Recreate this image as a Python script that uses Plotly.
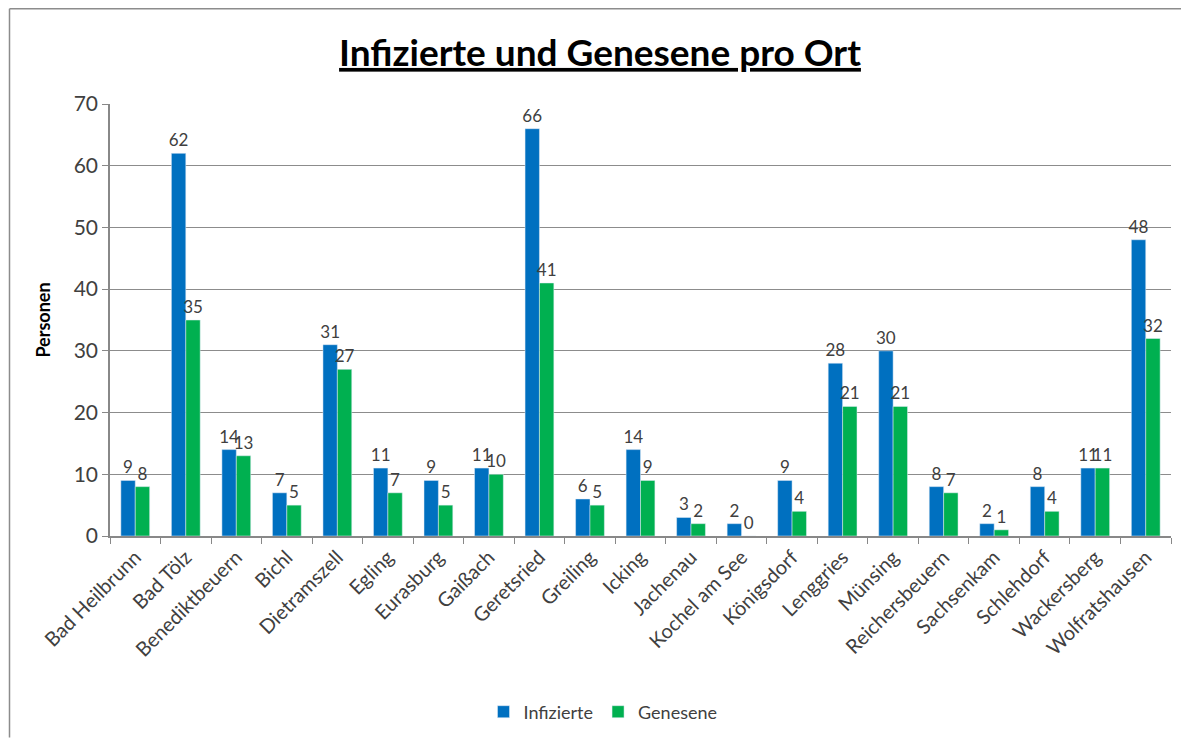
import plotly.graph_objects as go

orte = ["Bad Heilbrunn", "Bad Tölz", "Benediktbeuern", "Bichl", "Dietramszell", "Egling",
        "Eurasburg", "Gaißach", "Geretsried", "Greiling", "Icking", "Jachenau",
        "Kochel am See", "Königsdorf", "Lenggries", "Münsing", "Reichersbeuern",
        "Sachsenkam", "Schlehdorf", "Wackersberg", "Wolfratshausen"]
infizierte = [9, 62, 14, 7, 31, 11, 9, 11, 66, 6, 14, 3, 2, 9, 28, 30, 8, 2, 8, 11, 48]
genesene = [8, 35, 13, 5, 27, 7, 5, 10, 41, 5, 9, 2, 0, 4, 21, 21, 7, 1, 4, 11, 32]
y_ticks = [0, 10, 20, 30, 40, 50, 60, 70]

FONT = "Lato"
OFF = 8  # page offset
H = 739 - OFF
L, R, T, B = 110 - OFF, 10, 104 - OFF, 739 - 537
W = 1171 - OFF + R  # keep plot right at x=1171

fig = go.Figure()
for name, vals, col in [("Infizierte", infizierte, "#0070C0"), ("Genesene", genesene, "#00B050")]:
    fig.add_bar(x=orte, y=vals, name=name, marker_color=col,
                text=vals, textposition="outside", cliponaxis=False, constraintext="none",
                textfont=dict(size=17, color="#404040", family=FONT))

pw = W - L - R
ph = H - T - B
xl = (1.5 - L) / pw
xr = (W - L) / pw
yt = (H - B - 0.5) / ph
yb = -(H - T - ph) / ph
fig.add_shape(type="line", xref="paper", yref="paper", x0=xl, x1=xr, y0=yt, y1=yt,
              line=dict(color="#8c8c8c", width=1.5), layer="below")
fig.add_shape(type="line", xref="paper", yref="paper", x0=xl, x1=xl, y0=yb, y1=yt,
              line=dict(color="#8c8c8c", width=1.5), layer="below")

fig.update_layout(
    width=W, height=H,
    margin=dict(l=L, r=R, t=T, b=B),
    paper_bgcolor="white", plot_bgcolor="white",
    font=dict(family=FONT, color="#404040"),
    title=dict(text="<b><u>Infizierte und Genesene pro Ort</u></b>",
               x=(600 - OFF) / W, xanchor="center", y=1 - (53 - OFF) / H, yanchor="middle",
               font=dict(size=37, color="black", family=FONT)),
    barmode="group", bargap=0.43, bargroupgap=0,
    legend=dict(orientation="h", x=(603 - OFF - L) / pw, xanchor="center",
                y=-(712 - 537) / ph, yanchor="middle",
                font=dict(size=18, family=FONT, color="#404040"),
                itemwidth=30, traceorder="normal"),
    xaxis=dict(tickangle=-45, tickfont=dict(size=20, family=FONT, color="#404040"),
               showline=True, linecolor="#888888", linewidth=1.5,
               ticks="outside", ticklen=6, tickcolor="#888888",
               tickson="boundaries", showgrid=False),
    yaxis=dict(range=[0, 70], tickvals=y_ticks, showgrid=True, gridcolor="#8c8c8c",
               gridwidth=1.2, showline=True, linecolor="#888888", linewidth=1.5,
               ticks="outside", ticklen=6, tickcolor="#888888",
               tickfont=dict(size=21, family=FONT, color="#404040"),
               title=dict(text="<b>Personen</b>", font=dict(size=18, color="black", family=FONT),
                          standoff=18),
               zeroline=False),
)

fig.write_html("out.html", config={"displayModeBar": False})
